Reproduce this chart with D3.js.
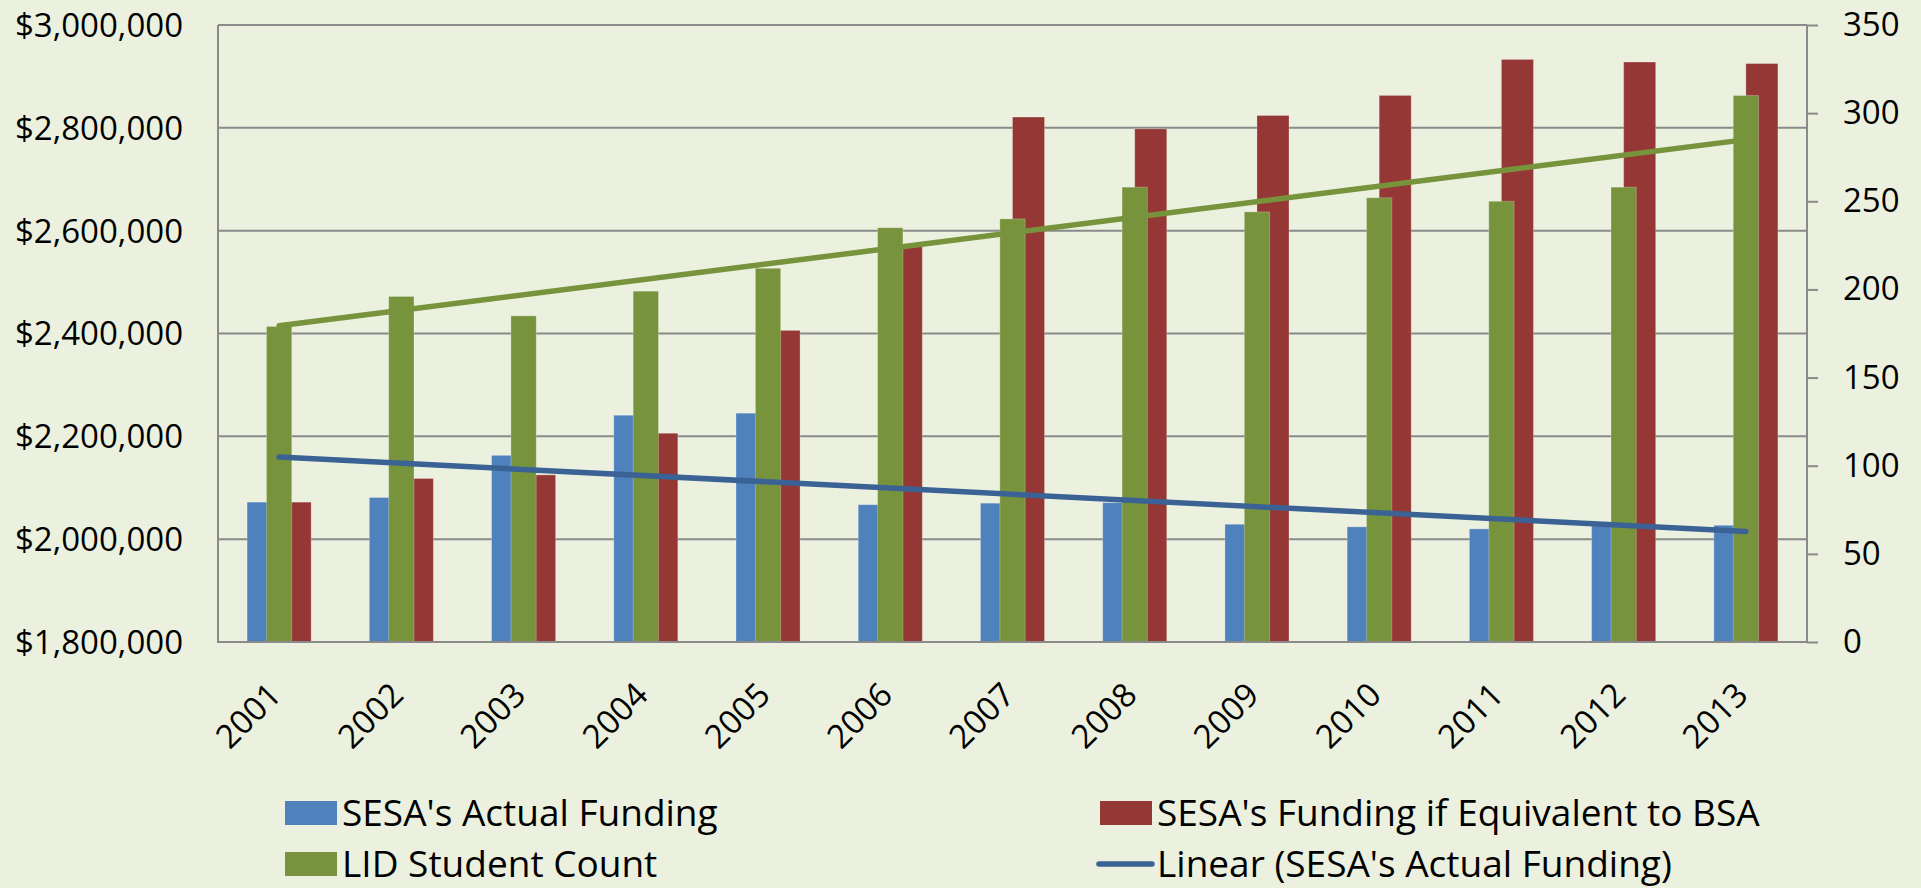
<!DOCTYPE html>
<html>
<head>
<meta charset="utf-8">
<script src="https://cdn.jsdelivr.net/npm/d3@7"></script>
<style>
  html, body { margin: 0; padding: 0; background: #EBF1DE; }
  svg { display: block; }
  text { font-family: "Open Sans", "Noto Sans", sans-serif; fill: #000; }
</style>
</head>
<body>
<svg id="chart" width="1921" height="888"></svg>
<script>
const years = ["2001","2002","2003","2004","2005","2006","2007","2008","2009","2010","2011","2012","2013"];
const actualFunding = [2072000, 2081000, 2163000, 2241000, 2245000, 2067000, 2070000, 2071000, 2029000, 2024000, 2020000, 2026000, 2027000];
const equivFunding  = [2072000, 2118000, 2125000, 2206000, 2406000, 2569000, 2821000, 2798000, 2824000, 2863000, 2933000, 2928000, 2925000];
const lidCount      = [179, 196, 185, 199, 212, 235, 240, 258, 244, 252, 250, 258, 310];
const leftTicks  = [1800000, 2000000, 2200000, 2400000, 2600000, 2800000, 3000000];
const rightTicks = [0, 50, 100, 150, 200, 250, 300, 350];
const seriesNames = ["SESA's Actual Funding", "SESA's Funding if Equivalent to BSA", "LID Student Count", "Linear (SESA's Actual Funding)"];

const C = { blue: "#4F81BD", red: "#953735", green: "#77933C", trendBlue: "#3A6294", grid: "#8A8A8A" };

const svg = d3.select("#chart");
const L = 218, R = 1807, T = 25, B = 642;

const x = d3.scaleBand().domain(years).range([L, R]).paddingInner(0).paddingOuter(0);
const yL = d3.scaleLinear().domain([1800000, 3000000]).range([B, T]);
const yR = d3.scaleLinear().domain([0, 350]).range([B, T]);
const bw = x.bandwidth();
const wPrim = bw * 0.262, wSec = bw * 0.207;

// gridlines
svg.append("g").selectAll("line").data(leftTicks.slice(1)).join("line")
  .attr("x1", L).attr("x2", R).attr("y1", d => yL(d)).attr("y2", d => yL(d))
  .attr("stroke", C.grid).attr("stroke-width", 2);

// left axis labels
const fmt = d3.format("$,");
svg.append("g").selectAll("text").data(leftTicks).join("text")
  .attr("x", 183).attr("y", d => yL(d)).attr("dy", "0.36em")
  .attr("text-anchor", "end").attr("font-size", 33).text(d => fmt(d));

// right axis via d3
const rAxis = svg.append("g").attr("transform", `translate(${R},0)`)
  .call(d3.axisRight(yR).tickValues(rightTicks).tickSize(11).tickPadding(25).tickFormat(d3.format("d")));
rAxis.select(".domain").remove();
rAxis.selectAll("line").attr("stroke", C.grid).attr("stroke-width", 2);
rAxis.selectAll("text").attr("font-size", 33).attr("font-family", "Open Sans").attr("fill", "#000");

// primary bars
const cx = d => x(d) + bw / 2;
svg.append("g").selectAll("rect").data(years).join("rect")
  .attr("x", d => cx(d) - wPrim).attr("width", wPrim)
  .attr("y", (d, i) => yL(actualFunding[i])).attr("height", (d, i) => B - yL(actualFunding[i]))
  .attr("fill", C.blue).attr("stroke", "rgba(255,255,255,0.25)").attr("stroke-width", 1);
svg.append("g").selectAll("rect").data(years).join("rect")
  .attr("x", d => cx(d)).attr("width", wPrim)
  .attr("y", (d, i) => yL(equivFunding[i])).attr("height", (d, i) => B - yL(equivFunding[i]))
  .attr("fill", C.red).attr("stroke", "rgba(255,255,255,0.25)").attr("stroke-width", 1);
// secondary bars
svg.append("g").selectAll("rect").data(years).join("rect")
  .attr("x", d => cx(d) - wSec / 2).attr("width", wSec)
  .attr("y", (d, i) => yR(lidCount[i])).attr("height", (d, i) => B - yR(lidCount[i]))
  .attr("fill", C.green).attr("stroke", "rgba(255,255,255,0.25)").attr("stroke-width", 1);

// axes lines
svg.append("line").attr("x1", L).attr("x2", L).attr("y1", T).attr("y2", B).attr("stroke", C.grid).attr("stroke-width", 2);
svg.append("line").attr("x1", R).attr("x2", R).attr("y1", T).attr("y2", B).attr("stroke", C.grid).attr("stroke-width", 2);
svg.append("line").attr("x1", L - 1).attr("x2", R + 1).attr("y1", B).attr("y2", B).attr("stroke", C.grid).attr("stroke-width", 2);

// linear trendlines (least squares)
function linfit(vals) {
  const n = vals.length, xs = d3.range(n);
  const mx = d3.mean(xs), my = d3.mean(vals);
  const sxy = d3.sum(xs, i => (i - mx) * (vals[i] - my));
  const sxx = d3.sum(xs, i => (i - mx) * (i - mx));
  const b = sxy / sxx, a = my - b * mx;
  return [a, a + b * (n - 1)];
}
const tb = linfit(actualFunding), tg = linfit(lidCount);
const first = years[0], last = years[years.length - 1];
svg.append("line").attr("x1", cx(first)).attr("x2", cx(last)).attr("y1", yR(tg[0])).attr("y2", yR(tg[1]))
  .attr("stroke", C.green).attr("stroke-width", 5.5).attr("stroke-linecap", "round");
svg.append("line").attr("x1", cx(first)).attr("x2", cx(last)).attr("y1", yL(tb[0])).attr("y2", yL(tb[1]))
  .attr("stroke", C.trendBlue).attr("stroke-width", 5.5).attr("stroke-linecap", "round");

// x labels
svg.append("g").selectAll("text").data(years).join("text")
  .attr("transform", d => `translate(${cx(d) + 4},697) rotate(-45)`)
  .attr("text-anchor", "end").attr("font-size", 33).text(d => d);

// legend
const lg = svg.append("g");
const items = [
  { name: seriesNames[0], type: "rect", color: C.blue, x: 285, y: 813 },
  { name: seriesNames[1], type: "rect", color: C.red, x: 1100, y: 813 },
  { name: seriesNames[2], type: "rect", color: C.green, x: 285, y: 864 },
  { name: seriesNames[3], type: "line", color: C.trendBlue, x: 1100, y: 864 }
];
items.forEach(it => {
  if (it.type === "rect") {
    lg.append("rect").attr("x", it.x).attr("y", it.y - 12).attr("width", 52).attr("height", 24).attr("fill", it.color);
  } else {
    lg.append("line").attr("x1", it.x - 1).attr("x2", it.x + 52).attr("y1", it.y).attr("y2", it.y)
      .attr("stroke", it.color).attr("stroke-width", 5.5).attr("stroke-linecap", "round");
  }
  lg.append("text").attr("x", it.x + 57).attr("y", it.y + 13).attr("font-size", 37).text(it.name);
});
</script>
</body>
</html>
